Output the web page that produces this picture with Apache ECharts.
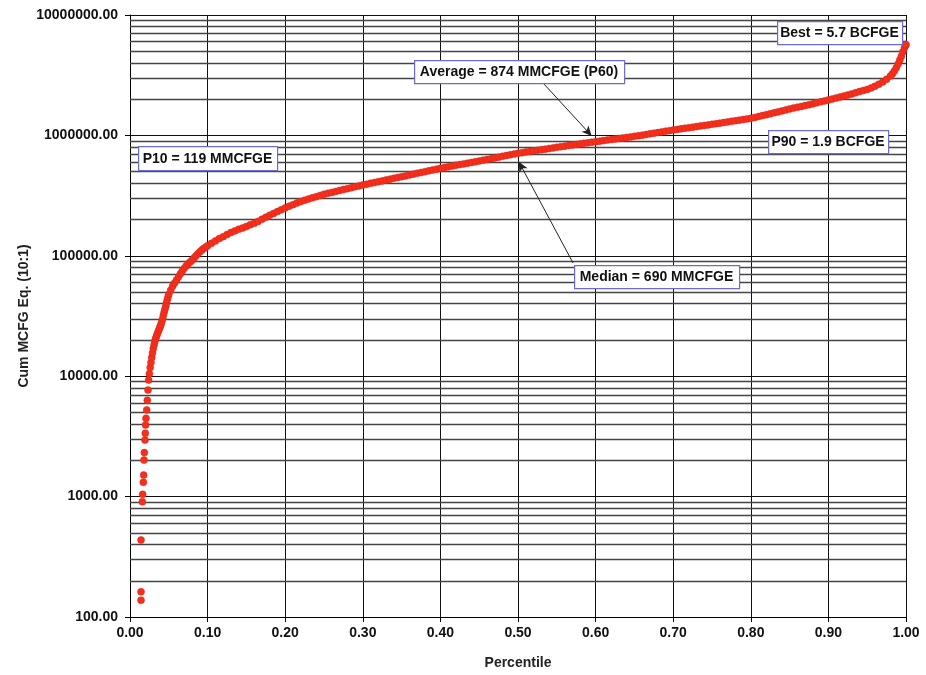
<!DOCTYPE html>
<html>
<head>
<meta charset="utf-8">
<script src="https://cdn.jsdelivr.net/npm/echarts@6/dist/echarts.min.js"></script>
<style>
html,body{margin:0;padding:0;background:#fff;}
#chart{width:926px;height:675px;}
</style>
</head>
<body>
<div id="chart"></div>
<script>
// ---- data ----
const percentile = [
  0.0142,0.0142,0.0142,0.0159,0.0163,0.0172,0.0176,0.0180,0.0185,0.0193,0.0197,0.0201,0.0206,0.0215,0.0223,0.0232,0.0240,
  0.025,0.026,0.027,0.028,0.029,0.030,0.031,0.032,0.033,0.034,0.035,0.036,0.037,0.038,0.039,0.040,0.041,0.042,0.043,0.044,0.045,0.046,0.047,0.048,0.049,
  0.050,0.0525,0.055,0.0575,0.060,0.0625,0.065,0.0675,0.070,0.0725,0.075,0.0775,0.080,0.0825,0.085,0.0875,0.090,0.0925,0.095,0.0975,
  0.100,0.105,0.110,0.115,0.120,0.125,0.130,0.135,0.140,0.145,
  0.150,0.155,0.160,0.165,0.170,0.175,0.180,0.185,0.190,0.195,
  0.200,0.205,0.210,0.215,0.220,0.225,0.230,0.235,0.240,0.245,
  0.250,0.255,0.260,0.265,0.270,0.275,0.280,0.285,0.290,0.295,
  0.300,0.305,0.310,0.315,0.320,0.325,0.330,0.335,0.340,0.345,
  0.350,0.355,0.360,0.365,0.370,0.375,0.380,0.385,0.390,0.395,
  0.400,0.405,0.410,0.415,0.420,0.425,0.430,0.435,0.440,0.445,
  0.450,0.455,0.460,0.465,0.470,0.475,0.480,0.485,0.490,0.495,
  0.500,0.505,0.510,0.515,0.520,0.525,0.530,0.535,0.540,0.545,
  0.550,0.555,0.560,0.565,0.570,0.575,0.580,0.585,0.590,0.595,
  0.600,0.605,0.610,0.615,0.620,0.625,0.630,0.635,0.640,0.645,
  0.650,0.655,0.660,0.665,0.670,0.675,0.680,0.685,0.690,0.695,
  0.700,0.705,0.710,0.715,0.720,0.725,0.730,0.735,0.740,0.745,
  0.750,0.755,0.760,0.765,0.770,0.775,0.780,0.785,0.790,0.795,
  0.800,0.805,0.810,0.815,0.820,0.825,0.830,0.835,0.840,0.845,
  0.850,0.855,0.860,0.865,0.870,0.875,0.880,0.885,0.890,0.895,
  0.900,0.905,0.910,0.915,0.920,0.925,0.930,0.935,0.940,0.945,
  0.950,0.955,0.960,0.965,0.970,0.975,0.980,0.9825,0.985,0.9875,
  0.990,0.992,0.994,0.996,0.998,0.9995,1.000
];
const cumMcfge = [
  138,162,436,907,1045,1315,1510,2010,2320,2950,3360,3940,4470,5250,6310,7670,9290,
  10500,11800,13000,14300,15600,17000,18200,19500,20500,21400,22300,23200,24100,25000,26000,27000,28400,30000,32000,34000,36000,38000,40500,43000,45500,
  48000,52000,56000,59500,63000,67000,71000,75000,79000,82500,86000,89000,92000,96000,100000,104000,108000,111500,115000,118000,
  121000,127000,133000,139000,144000,150000,156000,161000,166000,170000,
  175000,181000,186000,193000,201000,209000,217000,225000,233000,241000,
  250000,258000,266000,274000,282000,289000,296000,303000,310000,317000,
  324000,330000,336000,342000,349000,355000,361000,367000,374000,380000,
  387000,393000,400000,406000,413000,419000,426000,433000,440000,447000,
  454000,461000,469000,476000,484000,492000,500000,508000,516000,524000,
  533000,540000,548000,556000,564000,572000,580000,588000,596000,604000,
  613000,622000,631000,640000,650000,660000,670000,680000,690000,700000,
  710000,718000,727000,735000,744000,752000,761000,769000,778000,787000,
  796000,805000,814000,823000,832000,841000,850000,859000,868000,877000,
  887000,896000,905000,914000,924000,933000,943000,952000,962000,972000,
  982000,993000,1005000,1017000,1030000,1042000,1055000,1068000,1082000,1095000,
  1109000,1121000,1133000,1145000,1157000,1170000,1183000,1196000,1209000,1222000,
  1236000,1250000,1264000,1278000,1293000,1308000,1323000,1338000,1354000,1370000,
  1386000,1410000,1435000,1460000,1487000,1513000,1540000,1568000,1598000,1628000,
  1660000,1685000,1712000,1740000,1768000,1798000,1830000,1864000,1900000,1935000,
  1970000,2005000,2042000,2080000,2120000,2163000,2210000,2258000,2310000,2360000,
  2410000,2480000,2560000,2660000,2780000,2930000,3120000,3250000,3420000,3650000,
  3930000,4230000,4550000,4950000,5350000,5600000,5700000
];
const xTickLabels = ['0.00','0.10','0.20','0.30','0.40','0.50','0.60','0.70','0.80','0.90','1.00'];
const yTickLabels = ['100.00','1000.00','10000.00','100000.00','1000000.00','10000000.00'];
const minorMultipliers = [2,3,4,5,6,7,8,9];
const decades = [100,1000,10000,100000,1000000];
const annotationTexts = ['P10 = 119 MMCFGE','Average = 874 MMCFGE (P60)','Best = 5.7 BCFGE','P90 = 1.9 BCFGE','Median = 690 MMCFGE'];
const averageArrow = [[0.531, 2780000],[0.595, 990000]];
const medianArrow = [[0.571, 87000],[0.501, 605000]];

// ---- build ----
const points = percentile.map((p,i)=>[p, cumMcfge[i]]);
const minorLines = [];
decades.forEach(d => minorMultipliers.forEach(m => minorLines.push({yAxis: d*m})));

const FONT = '"Liberation Sans", Arial, sans-serif';
const chart = echarts.init(document.getElementById('chart'));

const boxes = [
  {x:138,y:146,w:139,h:24},
  {x:414,y:60,w:210,h:23},
  {x:777,y:21,w:125,h:23},
  {x:768,y:130,w:120,h:23},
  {x:574,y:265,w:165,h:23}
];
const graphics = [];
boxes.forEach((b,i)=>{
  graphics.push({
    type:'rect', left:b.x, top:b.y, z:100,
    shape:{width:b.w,height:b.h},
    style:{fill:'#ffffff', stroke:'#6b6bd6', lineWidth:1.2}
  });
  graphics.push({
    type:'text', x:b.x + b.w/2, y:b.y + b.h/2 + 1, z:101,
    style:{text:annotationTexts[i], fill:'#111', font:'bold 14px '+FONT,
           align:'center', verticalAlign:'middle'}
  });
});

chart.setOption({
  backgroundColor:'#fff',
  animation:false,
  grid:{left:130,right:20,top:15,bottom:58,containLabel:false},
  xAxis:{
    type:'value', min:0, max:1, interval:0.1,
    name:'Percentile', nameLocation:'middle', nameGap:39,
    nameTextStyle:{fontFamily:FONT,fontWeight:'bold',fontSize:14,color:'#222'},
    axisLine:{show:true,lineStyle:{color:'#000',width:1}},
    axisTick:{show:true,length:5,inside:false,lineStyle:{color:'#000'}},
    axisLabel:{margin:9,fontFamily:FONT,fontWeight:'bold',fontSize:14,color:'#111',
      formatter:(v)=>{const i=Math.round(v*10);return xTickLabels[i]!==undefined?xTickLabels[i]:v.toFixed(2);}},
    splitLine:{show:true,lineStyle:{color:'#111',width:1}}
  },
  yAxis:{
    type:'log', logBase:10, min:100, max:10000000,
    name:'Cum MCFG Eq. (10:1)', nameLocation:'middle', nameGap:99, nameRotate:90,
    nameMoveOverlap:false,
    nameTextStyle:{fontFamily:FONT,fontWeight:'bold',fontSize:14,color:'#222'},
    axisLine:{show:true,lineStyle:{color:'#000',width:1}},
    axisTick:{show:true,length:5,lineStyle:{color:'#000'}},
    axisLabel:{margin:12,fontFamily:FONT,fontWeight:'bold',fontSize:14,color:'#111',
      formatter:(v)=>{const i=Math.round(Math.log10(v))-2;return yTickLabels[i]!==undefined?yTickLabels[i]:v.toFixed(2);}},
    splitLine:{show:true,lineStyle:{color:'#111',width:1}}
  },
  graphic: graphics,
  series:[
    {
      name:'minorGrid', type:'scatter', data:[], silent:true, z:1,
      markLine:{silent:true, z:1, symbol:['none','none'], label:{show:false},
        lineStyle:{color:'#444',width:1.3,type:'solid'}, emphasis:{disabled:true},
        data:minorLines}
    },
    {
      name:'wells', type:'scatter', data:points, z:3,
      symbol:'circle', symbolSize:7,
      itemStyle:{color:'#f2301c', borderColor:'#e0231a', borderWidth:0.5, opacity:1},
      markLine:{silent:true, z:4, symbol:['none','arrow'], symbolSize:[7,10], label:{show:false},
        lineStyle:{color:'#222',width:1,type:'solid'}, emphasis:{disabled:true},
        data:[
          [{coord:averageArrow[0]},{coord:averageArrow[1]}],
          [{coord:medianArrow[0]},{coord:medianArrow[1]}]
        ]}
    }
  ]
});
</script>
</body>
</html>
